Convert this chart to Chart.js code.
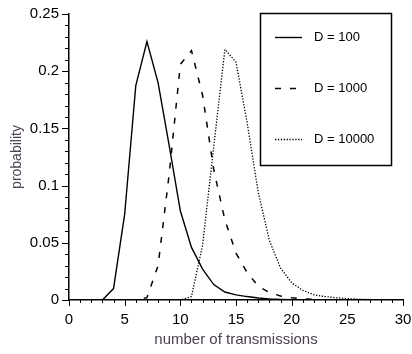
<!DOCTYPE html>
<html>
<head>
<meta charset="utf-8">
<script src="https://cdn.jsdelivr.net/npm/chart.js@4"></script>
<style>
  html, body { margin: 0; padding: 0; background: #fff; }
  #wrap { width: 412px; height: 354px; }
</style>
</head>
<body>
<div id="wrap"><canvas id="probChart" width="412" height="354"></canvas></div>
<script>
// number of transmissions (x)
const transmissions = [0, 1, 2, 3, 4, 5, 6, 7, 8, 9, 10, 11, 12, 13, 14, 15,
    16, 17, 18, 19, 20, 21, 22, 23, 24, 25, 26, 27, 28, 29, 30];

// probability for each D
const probD100 = [0, 0, 0, 0, 0.01, 0.075, 0.1875, 0.226, 0.19, 0.135, 0.078,
    0.046, 0.027, 0.0135, 0.007, 0.0045, 0.003, 0.0018, 0.001, 0.0005, 0.0002,
    0, 0, 0, 0, 0, 0, 0, 0, 0, 0];
const probD1000 = [0, 0, 0, 0, 0, 0, 0, 0.002, 0.03, 0.11, 0.206,
    0.218, 0.179, 0.114, 0.07, 0.041, 0.024, 0.012, 0.0065, 0.0035, 0.002,
    0.001, 0.0005, 0, 0, 0, 0, 0, 0, 0, 0];
const probD10000 = [0, 0, 0, 0, 0, 0, 0, 0, 0, 0, 0,
    0.003, 0.048, 0.134, 0.219, 0.208, 0.155, 0.094, 0.052, 0.028, 0.015,
    0.0085, 0.0045, 0.003, 0.002, 0.0012, 0.0007, 0.0004, 0.0002, 0.0001, 0];

const seriesNames = ["D = 100", "D = 1000", "D = 10000"];

const FONT = "'Liberation Sans', Arial, sans-serif";

function toPoints(values) {
    return transmissions.map((x, i) => ({ x: x, y: values[i] }));
}

// minor/major tick marks drawn outside the axes
const tickMarks = {
    id: "tickMarks",
    afterDraw(chart) {
        const ctx = chart.ctx;
        const xs = chart.scales.x;
        const ys = chart.scales.y;
        ctx.save();
        ctx.strokeStyle = "#000";
        ctx.lineWidth = 1;
        xs.ticks.forEach(t => {
            const px = Math.round(xs.getPixelForValue(t.value)) + 0.5;
            const len = Math.round(t.value) % 5 === 0 ? 6 : 3;
            ctx.beginPath();
            ctx.moveTo(px, xs.top);
            ctx.lineTo(px, xs.top + len);
            ctx.stroke();
        });
        ys.ticks.forEach(t => {
            const py = Math.round(ys.getPixelForValue(t.value)) + 0.5;
            const len = Math.round(t.value * 100) % 5 === 0 ? 7 : 4;
            ctx.beginPath();
            ctx.moveTo(ys.right, py);
            ctx.lineTo(ys.right - len, py);
            ctx.stroke();
        });
        ctx.restore();
    }
};

// boxed legend in the upper right
const boxLegend = {
    id: "boxLegend",
    afterDraw(chart) {
        const ctx = chart.ctx;
        ctx.save();
        ctx.strokeStyle = "#000";
        ctx.lineWidth = 1.5;
        ctx.strokeRect(260.5, 13.5, 131, 152);
        ctx.font = "13px " + FONT;
        ctx.textBaseline = "middle";
        ctx.fillStyle = "#000";
        chart.data.datasets.forEach((ds, i) => {
            const y = 37.5 + i * 51;
            ctx.beginPath();
            ctx.lineWidth = ds.borderWidth;
            ctx.setLineDash(ds.borderDash || []);
            ctx.moveTo(275, y);
            ctx.lineTo(302, y);
            ctx.stroke();
            ctx.setLineDash([]);
            ctx.fillText(ds.label, 314, y);
        });
        ctx.restore();
    }
};

new Chart(document.getElementById("probChart"), {
    type: "line",
    data: {
        datasets: [
            {
                label: seriesNames[0],
                data: toPoints(probD100),
                borderColor: "#000",
                borderWidth: 1.4,
                borderDash: []
            },
            {
                label: seriesNames[1],
                data: toPoints(probD1000),
                borderColor: "#000",
                borderWidth: 1.5,
                borderDash: [6, 9]
            },
            {
                label: seriesNames[2],
                data: toPoints(probD10000),
                borderColor: "#000",
                borderWidth: 1.3,
                borderDash: [1.3, 1.6]
            }
        ]
    },
    options: {
        responsive: false,
        animation: false,
        devicePixelRatio: 1,
        layout: { padding: { top: 14, right: 9, left: 0, bottom: 0 } },
        elements: {
            point: { radius: 0 },
            line: { tension: 0, fill: false }
        },
        plugins: {
            legend: { display: false },
            tooltip: { enabled: false }
        },
        scales: {
            x: {
                type: "linear",
                min: 0,
                max: 30,
                afterFit(scale) {
                    scale.height = 54;
                    scale.paddingLeft = 0;
                    scale.paddingRight = 0;
                },
                border: { display: true, color: "#000", width: 1.5 },
                grid: { display: false, drawTicks: false },
                ticks: {
                    stepSize: 1,
                    autoSkip: false,
                    maxRotation: 0,
                    padding: 11,
                    color: "#000",
                    font: { family: FONT, size: 15 },
                    callback: v => (Math.round(v) % 5 === 0 ? String(v) : "")
                },
                title: {
                    display: true,
                    text: "number of transmissions",
                    color: "#4b4150",
                    font: { family: FONT, size: 15 },
                    padding: { top: 0, bottom: 5 }
                }
            },
            y: {
                min: 0,
                max: 0.25,
                afterFit(scale) {
                    scale.width = 69;
                    scale.paddingTop = 0;
                    scale.paddingBottom = 0;
                },
                border: { display: true, color: "#000", width: 1.5 },
                grid: { display: false, drawTicks: false },
                ticks: {
                    stepSize: 0.01,
                    autoSkip: false,
                    padding: 10,
                    color: "#000",
                    font: { family: FONT, size: 15 },
                    callback: v => {
                        const hundredths = Math.round(v * 100);
                        return hundredths % 5 === 0 ? String(hundredths / 100) : "";
                    }
                },
                title: {
                    display: true,
                    text: "probability",
                    color: "#4b4150",
                    font: { family: FONT, size: 14 },
                    padding: { top: 9, bottom: 0 }
                }
            }
        }
    },
    plugins: [tickMarks, boxLegend]
});
</script>
</body>
</html>
